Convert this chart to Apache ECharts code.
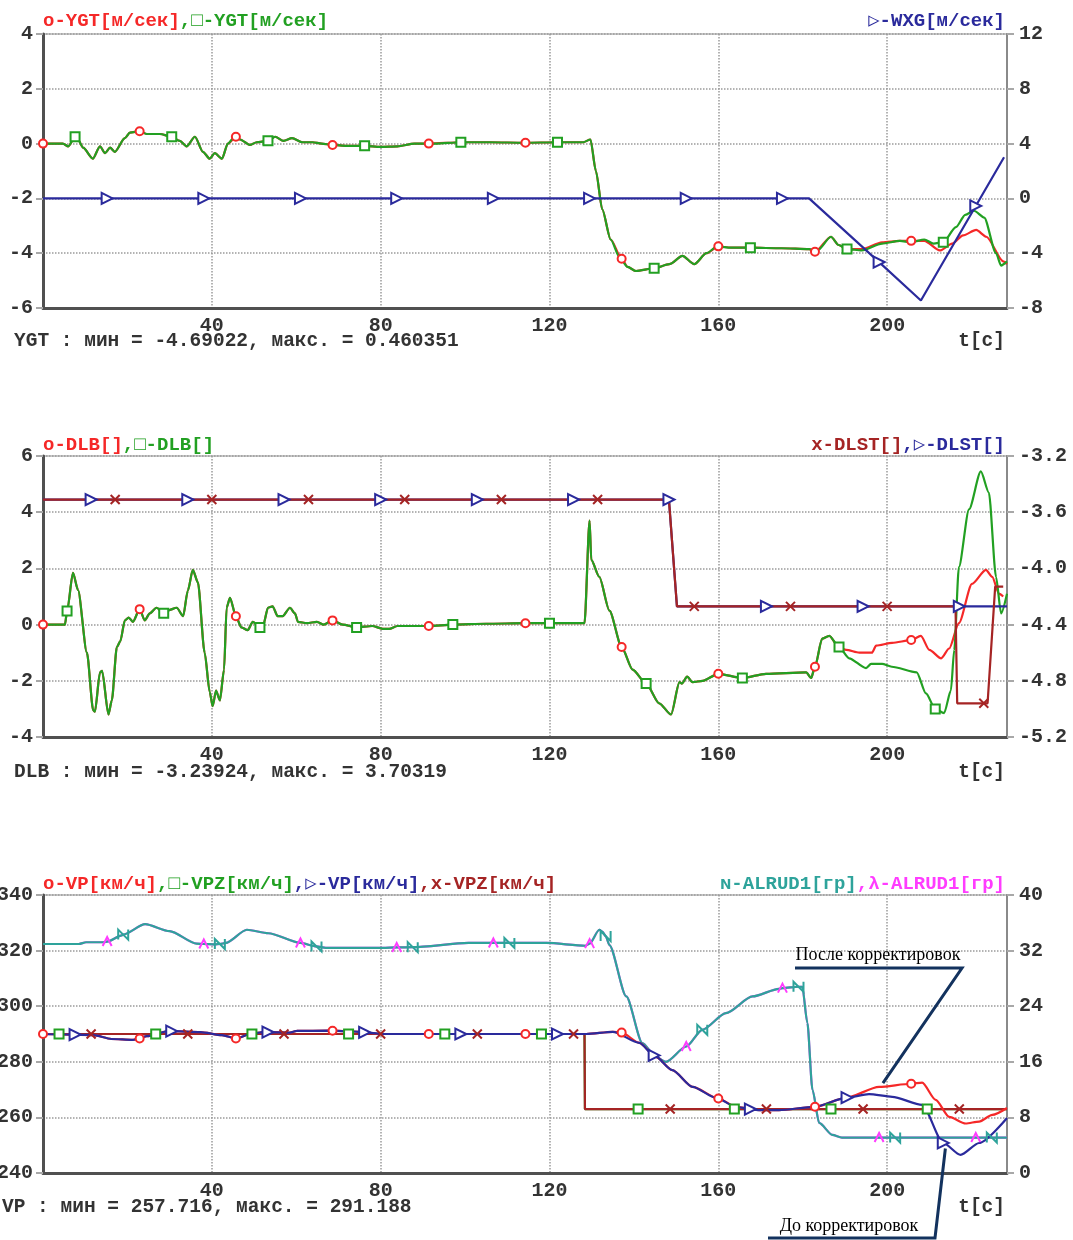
<!DOCTYPE html>
<html>
<head>
<meta charset="utf-8">
<script src="https://cdn.jsdelivr.net/npm/echarts/dist/echarts.min.js"></script>
<style>
html, body { margin: 0; padding: 0; background: #fff; }
#chart { width: 1073px; height: 1240px; }
</style>
</head>
<body>
<div id="chart"></div>
<script>
// [t, value, marker?]  -- third element = 1 where the series draws its marker
// ---- panel 1 : YGT / WXG
const ygtRed = [
  [0,0,1],[4.7,0],[6,-0.1],[7.6,0.25],[8.3,0.15],[9.5,-0.15],[11.8,-0.55],[13.5,-0.1],[14.7,-0.35],[15.9,-0.15],[17,-0.3],
  [19.4,0.2],[20.6,0.4],[22.9,0.45,1],[24.6,0.35],[27.7,0.35],[30.5,0.25],[32.4,0.1],[34,-0.1],[36,0.25],[37.9,-0.3],
  [39.5,-0.55],[40.7,-0.35],[42.4,-0.55],[43.8,0],[45.7,0.25,1],[46.7,0.15],[49,-0.05],[50.6,0.05],[53.3,0.1],[55,0.25],
  [57,0.1],[59,0.2],[61.5,0.05],[63.9,0.05],[66,0],[68.6,-0.05,1],[72,-0.08],[76.2,-0.08],[80,-0.12],[84,-0.1],[88,0],
  [91.4,0,1],[99,0.05],[106,0.05],[114.3,0.03,1],[121.9,0.05],[128,0.05],[129.7,0.15],[131,-1],[132.5,-2.4],[134.5,-3.5],
  [137.1,-4.2,1],[138.5,-4.5],[140.5,-4.65],[144.8,-4.55],[148.4,-4.4],[151.5,-4.1],[154.3,-4.4],[157.2,-4.0],[160,-3.75,1],
  [163,-3.8],[167.6,-3.8],[175,-3.82],[181.5,-3.85],[182.9,-3.95,1],[186.7,-3.4],[188.5,-3.7],[190.5,-3.85],[194,-3.85],
  [198.8,-3.6],[203,-3.55],[205.7,-3.55,1],[208.8,-3.55],[212.5,-3.9],[215.4,-3.65],[218,-3.35],[221.1,-3.15],[223.5,-3.4],
  [227.5,-4.3],[228.4,-4.4]
];
const ygtGreen = [
  [0,0],[4.7,0],[6,-0.1],[7.6,0.25,1],[8.3,0.15],[9.5,-0.15],[11.8,-0.55],[13.5,-0.1],[14.7,-0.35],[15.9,-0.15],[17,-0.3],
  [19.4,0.2],[20.6,0.4],[23,0.45],[24.6,0.35],[27.7,0.35],[30.5,0.25,1],[32.4,0.1],[34,-0.1],[36,0.25],[37.9,-0.3],
  [39.5,-0.55],[40.7,-0.35],[42.4,-0.55],[43.8,0],[45.4,0.25],[46.7,0.15],[49,-0.05],[50.6,0.05],[53.3,0.1,1],[55,0.25],
  [57,0.1],[59,0.2],[61.5,0.05],[63.9,0.05],[66,0],[68.6,-0.05],[72,-0.08],[76.2,-0.08,1],[80,-0.12],[84,-0.1],[88,0],
  [93,0],[99,0.05,1],[106,0.05],[114,0.03],[121.9,0.05,1],[128,0.05],[129.7,0.15],[131,-1],[132.5,-2.4],[134.5,-3.5],
  [136.6,-4.15],[138.5,-4.5],[140.5,-4.65],[144.8,-4.55,1],[148.4,-4.4],[151.5,-4.1],[154.3,-4.4],[157.2,-4.0],[159.8,-3.75],
  [163,-3.8],[167.6,-3.8,1],[175,-3.82],[181.5,-3.85],[183.5,-3.9],[186.7,-3.4],[188.5,-3.7],[190.5,-3.85,1],[194,-3.9],
  [198.8,-3.65],[203,-3.55],[205.7,-3.6],[208.8,-3.5],[211,-3.65],[213.3,-3.6,1],[216.3,-3.05],[218.5,-2.6],[220.6,-2.45],
  [223,-2.7],[225.8,-4.0],[227,-4.45],[228.4,-4.3]
];
const wxgBlue = [
  [0,0],[15.2,0,1],[38.1,0,1],[61,0,1],[83.8,0,1],[106.7,0,1],[129.5,0,1],[152.4,0,1],[175.2,0,1],[181.5,0],
  [198.1,-4.65,1],[208,-7.45],[221,-0.55,1],[227.7,3.0]
];

// ---- panel 2 : DLB / DLST
const dlbRed = [
  [0,0,1],[5.2,0],[5.7,0.48],[7.1,1.84],[8.3,1.23],[10.4,-1.0],[11.9,-3.05],[12.3,-3.1],[13.5,-1.7],[14,-1.65],[15.5,-3.2],
  [16.3,-2.7],[17.5,-0.8],[18.3,-0.6],[19.4,0.15],[20.3,0.25],[21.3,0.1],[22.9,0.55,1],[24.1,0.15],[25.3,0.4],[26.9,0.6],
  [28.6,0.4],[29.5,0.5],[31.7,0.6],[33.2,0.3],[34.3,1.2],[35.5,1.95],[36.7,1.5],[38.3,-1.0],[39.5,-2.4],[40.2,-2.9],
  [41,-2.35],[41.9,-2.7],[42.9,-1.6],[43.5,0.6],[44.3,0.95],[45.7,0.3,1],[47,-0.1],[48.5,-0.2],[49.7,0.1],[51.4,-0.1],
  [52.2,0],[53.3,0.6],[54.4,0.65],[55.6,0.3],[56.8,0.3],[58.5,0.6],[59.7,0.4],[60.4,0.1],[62.5,0.05],[64.9,0.1],[66.5,0],
  [68.6,0.15,1],[71,0],[74.3,-0.1],[78,-0.05],[80.5,-0.15],[82,-0.15],[84,-0.05],[91.4,-0.05,1],[97.1,0],[105,0.03],
  [114.3,0.05,1],[120,0.05],[128.3,0.05],[129.5,3.7],[129.9,2.3],[131.8,1.7],[134.2,0.5],[137.1,-0.8,1],[139.7,-1.6],
  [142.9,-2.1],[146,-2.8],[148.8,-3.2],[150.8,-2.05],[151.4,-2.1],[152.6,-1.85],[153.9,-2.05],[156.3,-2.0],[160,-1.75,1],
  [165.7,-1.9],[171.3,-1.75],[180.8,-1.7],[182,-1.9],[182.9,-1.5,1],[184.6,-0.5],[186.3,-0.4],[188.5,-0.8],[190.3,-0.9],
  [193.4,-1.0],[196.4,-1.0],[197.4,-0.75],[201.2,-0.65],[205.7,-0.55,1],[208,-0.4],[210,-0.9],[212.8,-1.2],[214.7,-0.85],
  [217,0.05],[220.1,1.45],[223.4,1.95],[224.9,1.7],[226.5,1.1],[227.5,1.0]
];
const dlbGreen = [
  [0,0],[5.2,0],[5.7,0.48,1],[7.1,1.84],[8.3,1.23],[10.4,-1.0],[11.9,-3.05],[12.3,-3.1],[13.5,-1.7],[14,-1.65],[15.5,-3.2],
  [16.3,-2.7],[17.5,-0.8],[18.3,-0.6],[19.4,0.15],[20.3,0.25],[21.3,0.1],[22.9,0.55],[24.1,0.15],[25.3,0.4],[26.9,0.6],
  [28.6,0.4,1],[29.5,0.5],[31.7,0.6],[33.2,0.3],[34.3,1.2],[35.5,1.95],[36.7,1.5],[38.3,-1.0],[39.5,-2.4],[40.2,-2.9],
  [41,-2.35],[41.9,-2.7],[42.9,-1.6],[43.5,0.6],[44.3,0.95],[45.7,0.3],[47,-0.1],[48.5,-0.2],[49.7,0.1],[51.4,-0.1,1],
  [52.2,0],[53.3,0.6],[54.4,0.65],[55.6,0.3],[56.8,0.3],[58.5,0.6],[59.7,0.4],[60.4,0.1],[62.5,0.05],[64.9,0.1],[66.5,0],
  [68.6,0.15],[71,0],[74.3,-0.1,1],[78,-0.05],[80.5,-0.15],[82,-0.15],[84,-0.05],[91.4,-0.05],[97.1,0,1],[105,0.03],
  [114.3,0.05],[120,0.05,1],[128.3,0.05],[129.5,3.7],[129.9,2.3],[131.8,1.7],[134.2,0.5],[137.1,-0.8],[139.7,-1.6],
  [142.9,-2.1,1],[146,-2.8],[148.8,-3.2],[150.8,-2.05],[151.4,-2.1],[152.6,-1.85],[153.9,-2.05],[156.3,-2.0],[160,-1.75],
  [165.7,-1.9,1],[171.3,-1.75],[180.8,-1.7],[182,-1.9],[182.9,-1.5],[184.6,-0.5],[186.3,-0.4],[188.6,-0.8,1],[191,-1.2],
  [195,-1.55],[196.2,-1.4],[198.8,-1.4],[201.1,-1.5],[207,-1.7],[209.2,-2.45],[211.4,-3.0,1],[213.5,-3.15],[215.1,-2.35],
  [215.9,-0.9],[217,2.05],[219.4,4.1],[222.2,5.45],[224.1,4.7],[225.8,1.7],[227,0.4],[228.4,1.1]
];
const dlstBlue = [
  [0,-3.51],[11.4,-3.51,1],[34.3,-3.51,1],[57.1,-3.51,1],[80,-3.51,1],[102.9,-3.51,1],[125.7,-3.51,1],[148.3,-3.51,1],
  [150.2,-4.27],[171.4,-4.27,1],[194.3,-4.27,1],[217.1,-4.27,1],[228.4,-4.27]
];
const dlstDark = [
  [0,-3.51],[17.1,-3.51,1],[40,-3.51,1],[62.9,-3.51,1],[85.7,-3.51,1],[108.6,-3.51,1],[131.4,-3.51,1],[148.3,-3.51],
  [150.2,-4.27],[154.3,-4.27,1],[177.1,-4.27,1],[200,-4.27,1],[216.2,-4.27],[216.6,-4.96],[222.9,-4.96,1],[223.8,-4.96],
  [225.6,-4.13],[227.5,-4.13]
];

// ---- panel 3 : VP / VPZ / ALRUD1
const vpRed = [
  [0,290,1],[12,289.6],[16.2,288.2],[21.3,287.9],[22.9,288.4,1],[24.6,289.2],[29.7,291.0],[37.3,290.7],[42.4,289.6],
  [45.7,288.4,1],[49.2,290],[52.5,290.8],[58.5,290.5],[60.1,291.1],[67.7,291.2],[68.6,291.2,1],[73.6,290.9],[80.5,290],
  [91.4,290,1],[114.3,290,1],[128.7,290],[135,290.8],[137.1,290.5,1],[141.3,286.8],[145.2,281.8],[149.1,277],[153.9,271],
  [160,266.8,1],[164.2,263.8],[169.7,262.6],[174.4,262.6],[182.9,263.8,1],[190.2,267],[198.1,271],[205.7,272.1,1],
  [208.3,272.5],[211.5,266.3],[214.7,260.2],[218.6,257.8],[221.8,258.5],[224.9,260.9],[228.4,263.4]
];
const vpBlue = [
  [0,290],[7.6,289.8,1],[12,289.6],[16.2,288.2],[21.3,287.9],[24.6,289.2],[29.7,291.0],[30.5,291.0,1],[37.3,290.7],
  [42.4,289.6],[45.7,288.4],[49.2,290],[52.5,290.8],[53.3,290.7,1],[58.5,290.5],[60.1,291.1],[67.7,291.2],[73.6,290.9],
  [76.2,290.6,1],[80.5,290],[99,290,1],[121.9,290,1],[128.7,290],[135,290.8],[141.3,286.8],[144.8,282.3,1],[149.1,277],
  [153.9,271],[159.5,267],[164.2,263.8],[167.6,263,1],[169.7,262.6],[174.4,262.6],[182.7,263.8],[190.5,267.1,1],
  [195.7,268.4],[201.2,267.4],[208.3,264.5],[213.3,250.8,1],[217.4,246.5],[221.8,250.8],[228.4,259.8]
];
const vpzGreen = [
  [0,290],[3.8,290,1],[26.7,290,1],[49.5,290,1],[72.4,290,1],[95.2,290,1],[118.1,290,1],[128.3,290],[128.4,263],
  [141,263,1],[163.8,263,1],[186.7,263,1],[209.5,263,1],[228.4,263]
];
const vpzDark = [
  [0,290],[11.4,290,1],[34.3,290,1],[57.1,290,1],[80,290,1],[102.9,290,1],[125.7,290,1],[128.3,290],[128.4,263],
  [148.6,263,1],[171.4,263,1],[194.3,263,1],[217.1,263,1],[228.4,263]
];
const alrudTeal = [
  [0,32.95],[8.5,32.95],[10.2,33.2],[14.4,33.2],[15.2,33.3],[18.7,34.2],[19,34.3,1],[24.2,35.8],[30,34.8],[36.4,33.0],
  [38.1,32.95],[40.7,32.9],[41.9,32.95,1],[43.3,33.1],[48.3,35.0],[53.4,34.5],[61,33.1],[64.8,32.6,1],[67,32.4],[80.5,32.4],
  [83.8,32.45],[87.6,32.5,1],[100.8,33.1],[106.7,33.1],[110.5,33.1,1],[119.3,33.1],[128.5,32.7],[129.5,33.0],[131.8,35.0],
  [132.6,34.7],[133.3,34.1,1],[134.2,32.8],[138.2,25.4],[142,18.7],[145.2,16.7],[147.6,16.0],[152.4,18.2],[156.2,20.6,1],
  [161.8,23.0],[168.1,25.4],[174.4,26.5],[175.2,26.6],[179,26.8,1],[179.9,26.8],[181.1,21.6],[182.3,12.0],[183.9,7.2],
  [187,5.5],[189.3,5.1],[198.1,5.1],[201.9,5.1,1],[221,5.1],[224.8,5.1,1],[228.4,5.1]
];
const alrudMag = [
  [0,32.95],[8.5,32.95],[10.2,33.2],[14.4,33.2],[15.2,33.3,1],[18.7,34.2],[19,34.3],[24.2,35.8],[30,34.8],[36.4,33.0],
  [38.1,32.95,1],[40.7,32.9],[41.9,32.95],[43.3,33.1],[48.3,35.0],[53.4,34.5],[61,33.1,1],[64.8,32.6],[67,32.4],[80.5,32.4],
  [83.8,32.45,1],[87.6,32.5],[100.8,33.1],[106.7,33.1,1],[110.5,33.1],[119.3,33.1],[128.5,32.7],[129.5,33.0,1],[131.8,35.0],
  [132.6,34.7],[133.3,34.1],[134.2,32.8],[138.2,25.4],[142,18.7],[145.2,16.7],[147.6,16.0],[152.4,18.2,1],[156.2,20.6],
  [161.8,23.0],[168.1,25.4],[174.4,26.5],[175.2,26.6,1],[179,26.8],[179.9,26.8],[181.1,21.6],[182.3,12.0],[183.9,7.2],
  [187,5.5],[189.3,5.1],[198.1,5.1,1],[201.9,5.1],[221,5.1,1],[224.8,5.1],[228.4,5.1]
];

const MONO = '"Liberation Mono", "DejaVu Sans Mono", monospace';
const SERIF = '"Liberation Serif", "DejaVu Serif", serif';
const RED = '#f52828', GREEN = '#22a022', NAVY = '#2a2a9c', DARK = '#a52424', TEAL = '#2ea39b', MAG = '#ff3cff';

const SYM = {
  circle: { symbol: 'emptyCircle', size: 8 },
  square: { symbol: 'emptyRect', size: 9 },
  tri:    { symbol: 'emptyTriangle', size: 11, rotate: -90 },
  cross:  { symbol: 'path://M0,0L10,10M10,0L0,10', size: 9, path: true },
  enn:    { symbol: 'path://M0,12L0,0L10,12L10,0', size: 10, path: true },
  lam:    { symbol: 'path://M0,12L5,0L10,12', size: 9, path: true }
};

function line(data, xi, yi, color, sym, smooth) {
  const s = SYM[sym];
  return {
    type: 'line', data: data, xAxisIndex: xi, yAxisIndex: yi,
    smooth: smooth ? 0.25 : false, smoothMonotone: 'x',
    symbol: v => (v[2] ? s.symbol : 'none'),
    symbolSize: s.size, symbolRotate: s.rotate || 0,
    showAllSymbol: true,
    lineStyle: { color: color, width: 2.2 },
    itemStyle: { color: s.path ? 'rgba(0,0,0,0)' : color, borderColor: color, borderWidth: s.path ? 2 : 1.6 },
    emphasis: { disabled: true }, silent: true
  };
}

function xAx(gi) {
  return {
    type: 'value', gridIndex: gi, min: 0, max: 228.4, interval: 40,
    axisLine: { show: true, onZero: false, lineStyle: { color: '#505050', width: 3 } },
    axisTick: { show: false },
    axisLabel: { showMinLabel: false, showMaxLabel: false, margin: 8, color: '#333',
      fontFamily: MONO, fontWeight: 'bold', fontSize: 20 },
    splitLine: { show: true, lineStyle: { color: '#9a9a9a', type: 'dotted', width: 1.5 } }
  };
}
function yAx(gi, pos, min, max, step, fmt) {
  const left = pos === 'left';
  return {
    type: 'value', gridIndex: gi, position: pos, min: min, max: max, interval: step,
    axisLine: { show: true, onZero: false, lineStyle: { color: left ? '#505050' : '#8a8a8a', width: left ? 3 : 2 } },
    axisTick: { show: true, length: 7, lineStyle: { color: '#a8a8a8', width: 2 } },
    axisLabel: { margin: left ? 10 : 12, color: '#333', fontFamily: MONO, fontWeight: 'bold', fontSize: 20,
      formatter: fmt || (v => String(Math.round(v))) },
    splitLine: { show: left, lineStyle: { color: '#9a9a9a', type: 'dotted', width: 1.5 } }
  };
}

const grids = [
  { left: 43, right: 66, top: 34, height: 274 },
  { left: 43, right: 66, top: 456, height: 281 },
  { left: 43, right: 66, top: 895, height: 278 }
].map(g => Object.assign(g, { show: true, borderColor: '#c8c8c8', borderWidth: 2, containLabel: false, outerBoundsMode: 'none' }));

const chart = echarts.init(document.getElementById('chart'));
chart.setOption({
  animation: false,
  grid: grids,
  xAxis: [xAx(0), xAx(1), xAx(2)],
  yAxis: [
    yAx(0, 'left', -6, 4, 2), yAx(0, 'right', -8, 12, 4),
    yAx(1, 'left', -4, 6, 2), yAx(1, 'right', -5.2, -3.2, 0.4, v => v.toFixed(1)),
    yAx(2, 'left', 240, 340, 20), yAx(2, 'right', 0, 40, 8)
  ],
  series: [
    line(ygtRed, 0, 0, RED, 'circle', true),
    line(ygtGreen, 0, 0, GREEN, 'square', true),
    line(wxgBlue, 0, 1, NAVY, 'tri', false),

    line(dlbRed, 1, 2, RED, 'circle', true),
    line(dlbGreen, 1, 2, GREEN, 'square', true),
    line(dlstBlue, 1, 3, NAVY, 'tri', false),
    line(dlstDark, 1, 3, DARK, 'cross', false),

    line(vpzGreen, 2, 4, GREEN, 'square', false),
    line(vpzDark, 2, 4, DARK, 'cross', false),
    line(alrudMag, 2, 5, MAG, 'lam', true),
    line(alrudTeal, 2, 5, TEAL, 'enn', true),
    line(vpRed, 2, 4, RED, 'circle', true),
    line(vpBlue, 2, 4, NAVY, 'tri', true)
  ]
});

function label(x, y, align, parts) {
  const f = 'bold 19px ' + MONO;
  const rich = {};
  let text = '';
  parts.forEach((p, i) => { rich['p' + i] = { fill: p[1], font: f }; text += '{p' + i + '|' + p[0] + '}'; });
  return { type: 'text', x: x, y: y, silent: true,
    style: { text: text, rich: rich, font: f, textAlign: align, textVerticalAlign: 'middle' } };
}
function plain(x, y, align, text) {
  return { type: 'text', x: x, y: y, silent: true,
    style: { text: text, font: 'bold 19.5px ' + MONO, fill: '#333', textAlign: align, textVerticalAlign: 'middle' } };
}

const tip1 = chart.convertToPixel({ xAxisIndex: 2, yAxisIndex: 4 }, [199, 272.3]);
const tip2 = chart.convertToPixel({ xAxisIndex: 2, yAxisIndex: 4 }, [213.8, 248.8]);
const NOTE = '#13325e';

chart.setOption({
  graphic: { elements: [
    label(43, 21, 'left', [['o-YGT[м/сек]', RED], [',□-YGT[м/сек]', GREEN]]),
    label(1005, 21, 'right', [['▷-WXG[м/сек]', NAVY]]),
    plain(14, 341, 'left', 'YGT : мин = -4.69022, макс. = 0.460351'),
    plain(1005, 341, 'right', 't[c]'),

    label(43, 445, 'left', [['o-DLB[]', RED], [',□-DLB[]', GREEN]]),
    label(1005, 445, 'right', [['x-DLST[]', DARK], [',▷-DLST[]', NAVY]]),
    plain(14, 772, 'left', 'DLB : мин = -3.23924, макс. = 3.70319'),
    plain(1005, 772, 'right', 't[c]'),

    label(43, 884, 'left', [['o-VP[км/ч]', RED], [',□-VPZ[км/ч]', GREEN], [',▷-VP[км/ч]', NAVY], [',x-VPZ[км/ч]', DARK]]),
    label(1005, 884, 'right', [['ɴ-ALRUD1[гр]', TEAL], [',λ-ALRUD1[гр]', MAG]]),
    plain(2, 1207, 'left', 'VP : мин = 257.716, макс. = 291.188'),
    plain(1005, 1207, 'right', 't[c]'),

    { type: 'text', x: 878, y: 955, silent: true,
      style: { text: 'После корректировок', font: '18px ' + SERIF, fill: '#000', textAlign: 'center', textVerticalAlign: 'middle' } },
    { type: 'polyline', silent: true, z: 100,
      shape: { points: [[795, 968], [962, 968], tip1] }, style: { stroke: NOTE, lineWidth: 3, fill: null } },
    { type: 'text', x: 849, y: 1226, silent: true,
      style: { text: 'До корректировок', font: '18px ' + SERIF, fill: '#000', textAlign: 'center', textVerticalAlign: 'middle' } },
    { type: 'polyline', silent: true, z: 100,
      shape: { points: [[768, 1238], [935, 1238], tip2] }, style: { stroke: NOTE, lineWidth: 3, fill: null } }
  ] }
});
</script>
</body>
</html>
